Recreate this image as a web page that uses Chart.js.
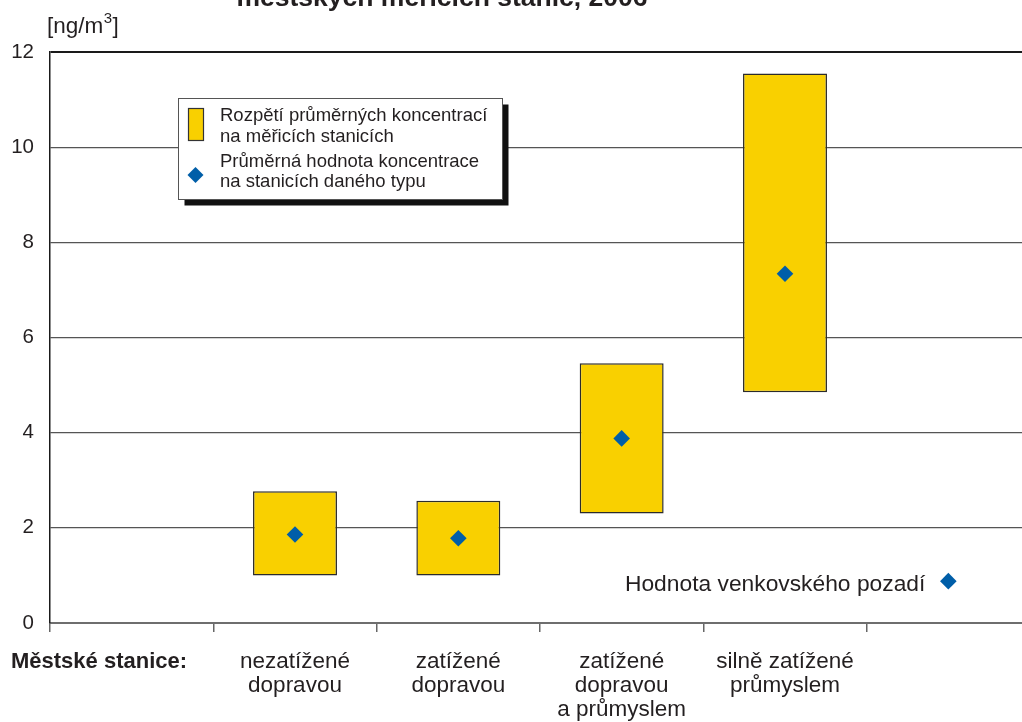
<!DOCTYPE html>
<html>
<head>
<meta charset="utf-8">
<script src="https://cdn.jsdelivr.net/npm/chart.js@4/dist/chart.umd.min.js"></script>
<style>
  html, body { margin: 0; padding: 0; background: #fff; overflow: hidden; }
  #wrap { width: 1022px; height: 722px; overflow: hidden; }
</style>
</head>
<body>
<div id="wrap"><canvas id="chart" width="1040" height="722"></canvas></div>
<script>
// category slots (first and last have no axis label of their own)
const categories = ['', ['nezatížené', 'dopravou'], ['zatížené', 'dopravou'], ['zatížené', 'dopravou', 'a průmyslem'], ['silně zatížené', 'průmyslem'], ''];
const rangeLow  = [null, 1.0, 1.0, 2.3, 4.85, null];
const rangeHigh = [null, 2.77, 2.57, 5.46, 11.55, null];
const meanValues = [null, 1.86, 1.78, 3.88, 7.34, null];
const ruralValues = [null, null, null, null, null, 0.88];
const yTicks = [0, 2, 4, 6, 8, 10, 12];

const TITLE = 'městských měřicích stanic, 2006';
const GROUP_LABEL = 'Městské stanice:';
const RURAL_LABEL = 'Hodnota venkovského pozadí';
const LEGEND_LINES = [['Rozpětí průměrných koncentrací', 'na měřicích stanicích'], ['Průměrná hodnota koncentrace', 'na stanicích daného typu']];

const YELLOW = '#f9d000';
const BLUE = '#005ea8';
const TEXT = '#231f20';
const FONT = '"Liberation Sans", Arial, sans-serif';

const decor = {
  id: 'decor',
  afterDraw(chart) {
    const c = chart.ctx;
    const x = chart.scales.x, y = chart.scales.y;
    c.save();
    c.fillStyle = TEXT;

    // clipped title at the very top
    c.font = 'bold 26.5px ' + FONT;
    c.textAlign = 'center';
    c.textBaseline = 'alphabetic';
    c.fillText(TITLE, 442, 6);

    // unit
    c.textAlign = 'left';
    c.font = '22.5px ' + FONT;
    c.fillText('[ng/m', 47, 33);
    let w = c.measureText('[ng/m').width;
    c.font = '15px ' + FONT;
    c.fillText('3', 47 + w + 0.5, 23);
    const w3 = c.measureText('3').width;
    c.font = '22.5px ' + FONT;
    c.fillText(']', 47 + w + w3 + 1, 33);

    // group label under the first slot
    c.font = 'bold 22px ' + FONT;
    c.textAlign = 'center';
    c.fillText(GROUP_LABEL, 99, 668);

    // rural background label
    c.font = '22.8px ' + FONT;
    c.textAlign = 'right';
    const px = x.getPixelForValue(5), py = y.getPixelForValue(ruralValues[5]);
    c.fillText(RURAL_LABEL, px - 23, py + 10);

    // legend box with shadow
    const lx = 178.5, ly = 98.5, lw = 324, lh = 101;
    c.fillStyle = '#111';
    c.fillRect(lx + 6, ly + 6, lw, lh);
    c.fillStyle = '#fff';
    c.fillRect(lx, ly, lw, lh);
    c.strokeStyle = '#555';
    c.lineWidth = 1;
    c.strokeRect(lx, ly, lw, lh);

    c.fillStyle = YELLOW;
    c.fillRect(188.5, 108.5, 15, 32);
    c.strokeStyle = '#333';
    c.lineWidth = 1.2;
    c.strokeRect(188.5, 108.5, 15, 32);

    c.fillStyle = BLUE;
    c.beginPath();
    c.moveTo(195.5, 167); c.lineTo(203.5, 175); c.lineTo(195.5, 183); c.lineTo(187.5, 175);
    c.closePath();
    c.fill();

    c.fillStyle = TEXT;
    c.font = '18.5px ' + FONT;
    c.textAlign = 'left';
    c.fillText(LEGEND_LINES[0][0], 220, 121);
    c.fillText(LEGEND_LINES[0][1], 220, 141.5);
    c.fillText(LEGEND_LINES[1][0], 220, 166.5);
    c.fillText(LEGEND_LINES[1][1], 220, 186.5);
    c.restore();
  }
};

new Chart(document.getElementById('chart'), {
  data: {
    labels: categories,
    datasets: [
      {
        type: 'bar',
        label: LEGEND_LINES[0].join(' '),
        data: rangeLow.map((v, i) => v === null ? null : [v, rangeHigh[i]]),
        backgroundColor: YELLOW,
        borderColor: '#2b2b2b',
        borderWidth: 1.5,
        borderSkipped: false,
        barPercentage: 0.514,
        categoryPercentage: 1,
        order: 2
      },
      {
        type: 'line',
        label: LEGEND_LINES[1].join(' '),
        data: meanValues,
        showLine: false,
        pointStyle: 'rectRot',
        pointRadius: 8.3,
        pointBackgroundColor: BLUE,
        pointBorderWidth: 0,
        order: 1
      },
      {
        type: 'line',
        label: RURAL_LABEL,
        data: ruralValues,
        showLine: false,
        pointStyle: 'rectRot',
        pointRadius: 8.3,
        pointBackgroundColor: BLUE,
        pointBorderWidth: 0,
        order: 1
      }
    ]
  },
  options: {
    responsive: false,
    animation: false,
    devicePixelRatio: 1,
    layout: { padding: { top: 52, left: 0, right: 10, bottom: 0 } },
    plugins: { legend: { display: false }, tooltip: { enabled: false } },
    scales: {
      x: {
        type: 'category',
        offset: true,
        grid: {
          offset: true,
          drawOnChartArea: false,
          drawTicks: true,
          tickLength: 9,
          color: '#666',
          lineWidth: 1.5
        },
        border: { color: '#6e6e6e', width: 2 },
        ticks: {
          color: TEXT,
          font: { family: FONT, size: 22.5, lineHeight: '24px' },
          padding: 18,
          maxRotation: 0,
          autoSkip: false
        },
        afterFit(scale) { scale.height = 99; }
      },
      y: {
        min: 0,
        max: 12,
        afterBuildTicks(scale) { scale.ticks = yTicks.map(v => ({ value: v })); },
        grid: {
          drawTicks: false,
          color: ctx => ctx.tick.value === 12 ? '#1a1a1a' : (ctx.tick.value === 0 ? 'rgba(0,0,0,0)' : '#555'),
          lineWidth: ctx => ctx.tick.value === 12 ? 2 : 1.3
        },
        border: { color: '#1a1a1a', width: 1.5 },
        ticks: {
          color: TEXT,
          font: { family: FONT, size: 20.5 },
          padding: 16
        },
        afterFit(scale) { scale.width = 50; }
      }
    }
  },
  plugins: [decor]
});
</script>
</body>
</html>
